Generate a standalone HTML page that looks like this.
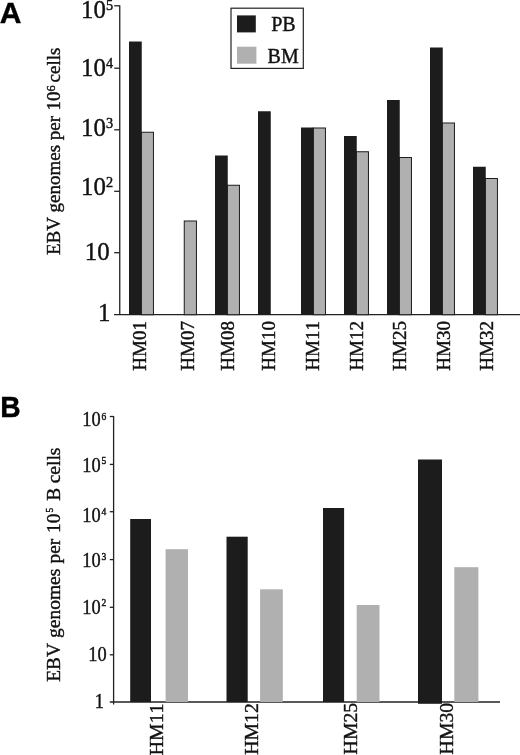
<!DOCTYPE html>
<html><head><meta charset="utf-8"><title>Figure</title>
<style>
html,body{margin:0;padding:0;background:#fff;}
body{width:520px;height:755px;overflow:hidden;}
svg{display:block;}
text{font-family:"Liberation Serif",serif;fill:#111;stroke:#111;stroke-width:0.4px;font-kerning:none;}
.lab{font-family:"Liberation Sans",sans-serif;font-weight:bold;font-size:30px;fill:#000;stroke:#000;stroke-width:0.4px;}
.ax{stroke:#222;stroke-width:1.3;fill:none;}
.pb{fill:#1c1c1c;}
.bm{fill:#b0b0b0;}
</style></head><body>
<svg width="520" height="755" viewBox="0 0 520 755">
<rect width="520" height="755" fill="#fff"/>

<text class="lab" x="-0.3" y="22.8">A</text>
<path class="ax" d="M119.75 5.2V314.7"/>
<path class="ax" d="M114 314.7H520"/>
<text x="98" y="321.4" font-size="24.8">1</text>
<path class="ax" d="M114.2 252.7H119.75"/>
<text x="84.8" y="260" font-size="24.8">10</text>
<path class="ax" d="M114.2 191.3H119.75"/>
<text x="81" y="194.8" font-size="24.8">10</text>
<text x="105.9" y="186.7" font-size="14.3">2</text>
<path class="ax" d="M114.2 129.8H119.75"/>
<text x="81" y="135.6" font-size="24.8">10</text>
<text x="105.9" y="127.5" font-size="14.3">3</text>
<path class="ax" d="M114.2 68.2H119.75"/>
<text x="81" y="75.6" font-size="24.8">10</text>
<text x="105.9" y="67.5" font-size="14.3">4</text>
<path class="ax" d="M114.2 5.8H119.75"/>
<text x="81" y="17.9" font-size="24.8">10</text>
<text x="105.9" y="9.8" font-size="14.3">5</text>
<rect class="bm" x="141.25" y="132.25" width="12.2" height="182.45" stroke="#1c1c1c" stroke-width="1"/>
<rect class="pb" x="129" y="41.5" width="12.75" height="273.2"/>
<text font-size="19" transform="translate(146 370.7) rotate(-90)">HM01</text>
<rect class="bm" x="184.25" y="221.0" width="12.2" height="93.69999999999999" stroke="#1c1c1c" stroke-width="1"/>
<text font-size="19" transform="translate(193.7 370.7) rotate(-90)">HM07</text>
<rect class="bm" x="227.25" y="185.25" width="12.2" height="129.45" stroke="#1c1c1c" stroke-width="1"/>
<rect class="pb" x="215" y="155.5" width="12.75" height="159.2"/>
<text font-size="19" transform="translate(234 370.7) rotate(-90)">HM08</text>
<rect class="pb" x="258" y="111.25" width="12.75" height="203.45"/>
<text font-size="19" transform="translate(275.4 370.7) rotate(-90)">HM10</text>
<rect class="bm" x="313.25" y="128.0" width="12.2" height="186.7" stroke="#1c1c1c" stroke-width="1"/>
<rect class="pb" x="301" y="127.5" width="12.75" height="187.2"/>
<text font-size="19" transform="translate(318.6 370.7) rotate(-90)">HM11</text>
<rect class="bm" x="356.25" y="151.75" width="12.2" height="162.95" stroke="#1c1c1c" stroke-width="1"/>
<rect class="pb" x="344" y="136" width="12.75" height="178.7"/>
<text font-size="19" transform="translate(363 370.7) rotate(-90)">HM12</text>
<rect class="bm" x="399.25" y="157.5" width="12.2" height="157.2" stroke="#1c1c1c" stroke-width="1"/>
<rect class="pb" x="387" y="100" width="12.75" height="214.7"/>
<text font-size="19" transform="translate(405.5 370.7) rotate(-90)">HM25</text>
<rect class="bm" x="442.25" y="123.0" width="12.2" height="191.7" stroke="#1c1c1c" stroke-width="1"/>
<rect class="pb" x="430" y="47.5" width="12.75" height="267.2"/>
<text font-size="19" transform="translate(450.1 370.7) rotate(-90)">HM30</text>
<rect class="bm" x="485.25" y="178.5" width="12.2" height="136.2" stroke="#1c1c1c" stroke-width="1"/>
<rect class="pb" x="473" y="166.75" width="12.75" height="147.95"/>
<text font-size="19" transform="translate(492.8 370.7) rotate(-90)">HM32</text>
<rect x="231" y="8.2" width="72.3" height="60.2" fill="#fff" stroke="#222" stroke-width="1.2"/>
<rect class="pb" x="237" y="15.4" width="18.8" height="17"/>
<rect class="bm" x="237" y="46.7" width="19.4" height="17"/>
<text x="271.2" y="30.8" font-size="20">PB</text>
<text x="267.6" y="62.5" font-size="20">BM</text>
<text font-size="19" transform="translate(60.4 255) rotate(-90)">EBV</text>
<text font-size="19" transform="translate(60.4 212.5) rotate(-90)">genomes</text>
<text font-size="19" transform="translate(60.4 140.3) rotate(-90)">per</text>
<text font-size="19" transform="translate(60.4 110.6) rotate(-90)">10</text>
<text font-size="12.5" transform="translate(55.199999999999996 91.4) rotate(-90)">6</text>
<text font-size="19" transform="translate(60.4 82.4) rotate(-90)">cells</text>
<text class="lab" transform="translate(0.3 416.7) scale(0.94 1)">B</text>
<path class="ax" d="M113.6 416V704.5"/><path class="ax" d="M109.8 702H500"/>
<text font-size="20" transform="translate(94.8 708.2) scale(0.92 1)">1</text>
<path class="ax" d="M109.8 654.8H113.6"/>
<text font-size="20" transform="translate(88.3 661.0) scale(0.92 1)">10</text>
<path class="ax" d="M109.8 607.3H113.6"/>
<text font-size="20" transform="translate(82.3 613.7) scale(0.92 1)">10</text>
<text x="101.6" y="605.8" font-size="9.5">2</text>
<path class="ax" d="M109.8 559.6H113.6"/>
<text font-size="20" transform="translate(82.3 567.4) scale(0.92 1)">10</text>
<text x="101.6" y="560.2" font-size="9.5">3</text>
<path class="ax" d="M109.8 511.7H113.6"/>
<text font-size="20" transform="translate(82.3 521.6) scale(0.92 1)">10</text>
<text x="101.6" y="514.6" font-size="9.5">4</text>
<path class="ax" d="M109.8 464.4H113.6"/>
<text font-size="20" transform="translate(82.3 471.8) scale(0.92 1)">10</text>
<text x="101.6" y="463.8" font-size="9.5">5</text>
<path class="ax" d="M109.8 416.5H113.6"/>
<text font-size="20" transform="translate(82.3 426.2) scale(0.92 1)">10</text>
<text x="101.6" y="420.4" font-size="9.5">6</text>
<rect class="pb" x="130.2" y="519" width="20.80" height="183.00"/>
<rect class="bm" x="165.6" y="549.2" width="22.40" height="152.80"/>
<text font-size="19.8" transform="translate(163.2 755.2) rotate(-90)">HM11</text>
<rect class="pb" x="226.5" y="536.7" width="21.20" height="165.30"/>
<rect class="bm" x="260.1" y="589.3" width="22.70" height="112.70"/>
<text font-size="19.8" transform="translate(257.7 754.8) rotate(-90)">HM12</text>
<rect class="pb" x="323" y="508" width="21.10" height="194.00"/>
<rect class="bm" x="356.7" y="605" width="22.80" height="97.00"/>
<text font-size="19.8" transform="translate(357 754.4) rotate(-90)">HM25</text>
<rect class="pb" x="418" y="459.5" width="24.00" height="244.30"/>
<rect class="bm" x="454.3" y="567.2" width="24.10" height="134.80"/>
<text font-size="19.8" transform="translate(453.2 754.4) rotate(-90)">HM30</text>
<text font-size="19.3" transform="translate(60.2 681.7) rotate(-90)">EBV</text>
<text font-size="19.5" transform="translate(60.2 638) rotate(-90)">genomes</text>
<text font-size="19.3" transform="translate(60.2 563.5) rotate(-90)">per</text>
<text font-size="19.3" transform="translate(60.2 533) rotate(-90)">10</text>
<text font-size="9.5" transform="translate(53.2 512.6) rotate(-90)">5</text>
<text font-size="19.3" transform="translate(60.2 500.8) rotate(-90)">B</text>
<text font-size="19.5" transform="translate(60.2 483.3) rotate(-90)">cells</text>
</svg></body></html>
